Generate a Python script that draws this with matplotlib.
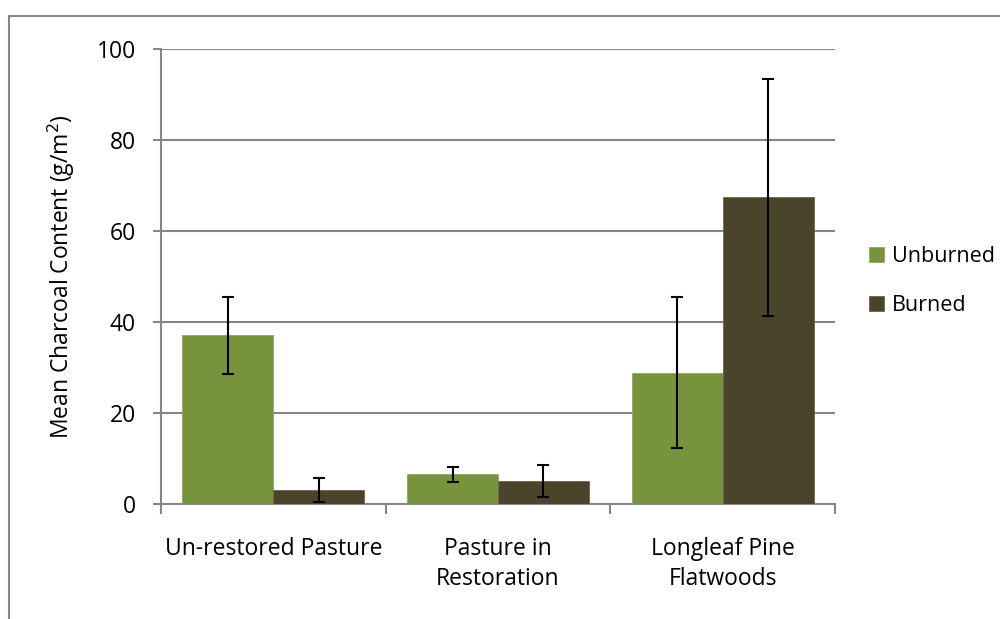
import numpy as np
import matplotlib.pyplot as plt
from matplotlib.patches import Rectangle

categories = ['Un-restored Pasture', 'Pasture in\nRestoration', 'Longleaf Pine\nFlatwoods']
unburned = [37.1, 6.5, 28.9]
unburned_err = [8.5, 1.7, 16.7]
burned = [3.1, 5.05, 67.4]
burned_err = [2.7, 3.6, 26.0]

green = '#77933C'
olive = '#4A452A'
grey = '#868686'

plt.rcParams['font.family'] = ['Open Sans', 'DejaVu Sans']
fs = 16.5

fig = plt.figure(figsize=(10, 6.19), dpi=100)
ax = fig.add_axes([0.161, 0.1858, 0.674, 0.735])

x = np.arange(len(categories))
w = 0.405
ekw = dict(ecolor='black', elinewidth=1.5, capsize=4.5, capthick=1.5)
ax.bar(x - w / 2, unburned, w, color=green, edgecolor='#8FA860', linewidth=0.6,
       yerr=unburned_err, error_kw=ekw, label='Unburned', zorder=3)
ax.bar(x + w / 2, burned, w, color=olive, edgecolor='#6B6650', linewidth=0.6,
       yerr=burned_err, error_kw=ekw, label='Burned', zorder=3)

ax.set_xlim(-0.5, len(categories) - 0.5)
ax.set_ylim(0, 100)
ax.set_yticks(range(0, 101, 20))
ax.yaxis.grid(True, color=grey, linewidth=1.5)
ax.set_axisbelow(True)

ax.set_xticks(x)
ax.set_xticklabels(categories, fontsize=fs, va='top', linespacing=1.3)
ax.set_xticks(np.arange(-0.5, len(categories)), minor=True)
ax.tick_params(axis='x', which='major', length=0, pad=24)
ax.tick_params(axis='x', which='minor', length=7, width=1.5, color=grey, direction='out')
ax.tick_params(axis='y', length=6, width=1.5, color=grey, labelsize=fs, pad=12)

for s in ['top', 'right']:
    ax.spines[s].set_visible(False)
for s in ['left', 'bottom']:
    ax.spines[s].set_color(grey)
    ax.spines[s].set_linewidth(1.5)

ax.set_ylabel('Mean Charcoal Content (g/m$^2$)', fontsize=fs, labelpad=14)

leg = fig.legend(loc='center left', bbox_to_anchor=(0.850, 0.546), frameon=False,
                 fontsize=15.5, handlelength=0.7, handleheight=0.7,
                 handletextpad=0.35, labelspacing=1.3)

fig.patches.append(Rectangle((0.009, -0.05), 1.2, 0.037 + 0.987, transform=fig.transFigure,
                             fill=False, edgecolor=grey, linewidth=1.5))

fig.savefig('out.png', dpi=100)
